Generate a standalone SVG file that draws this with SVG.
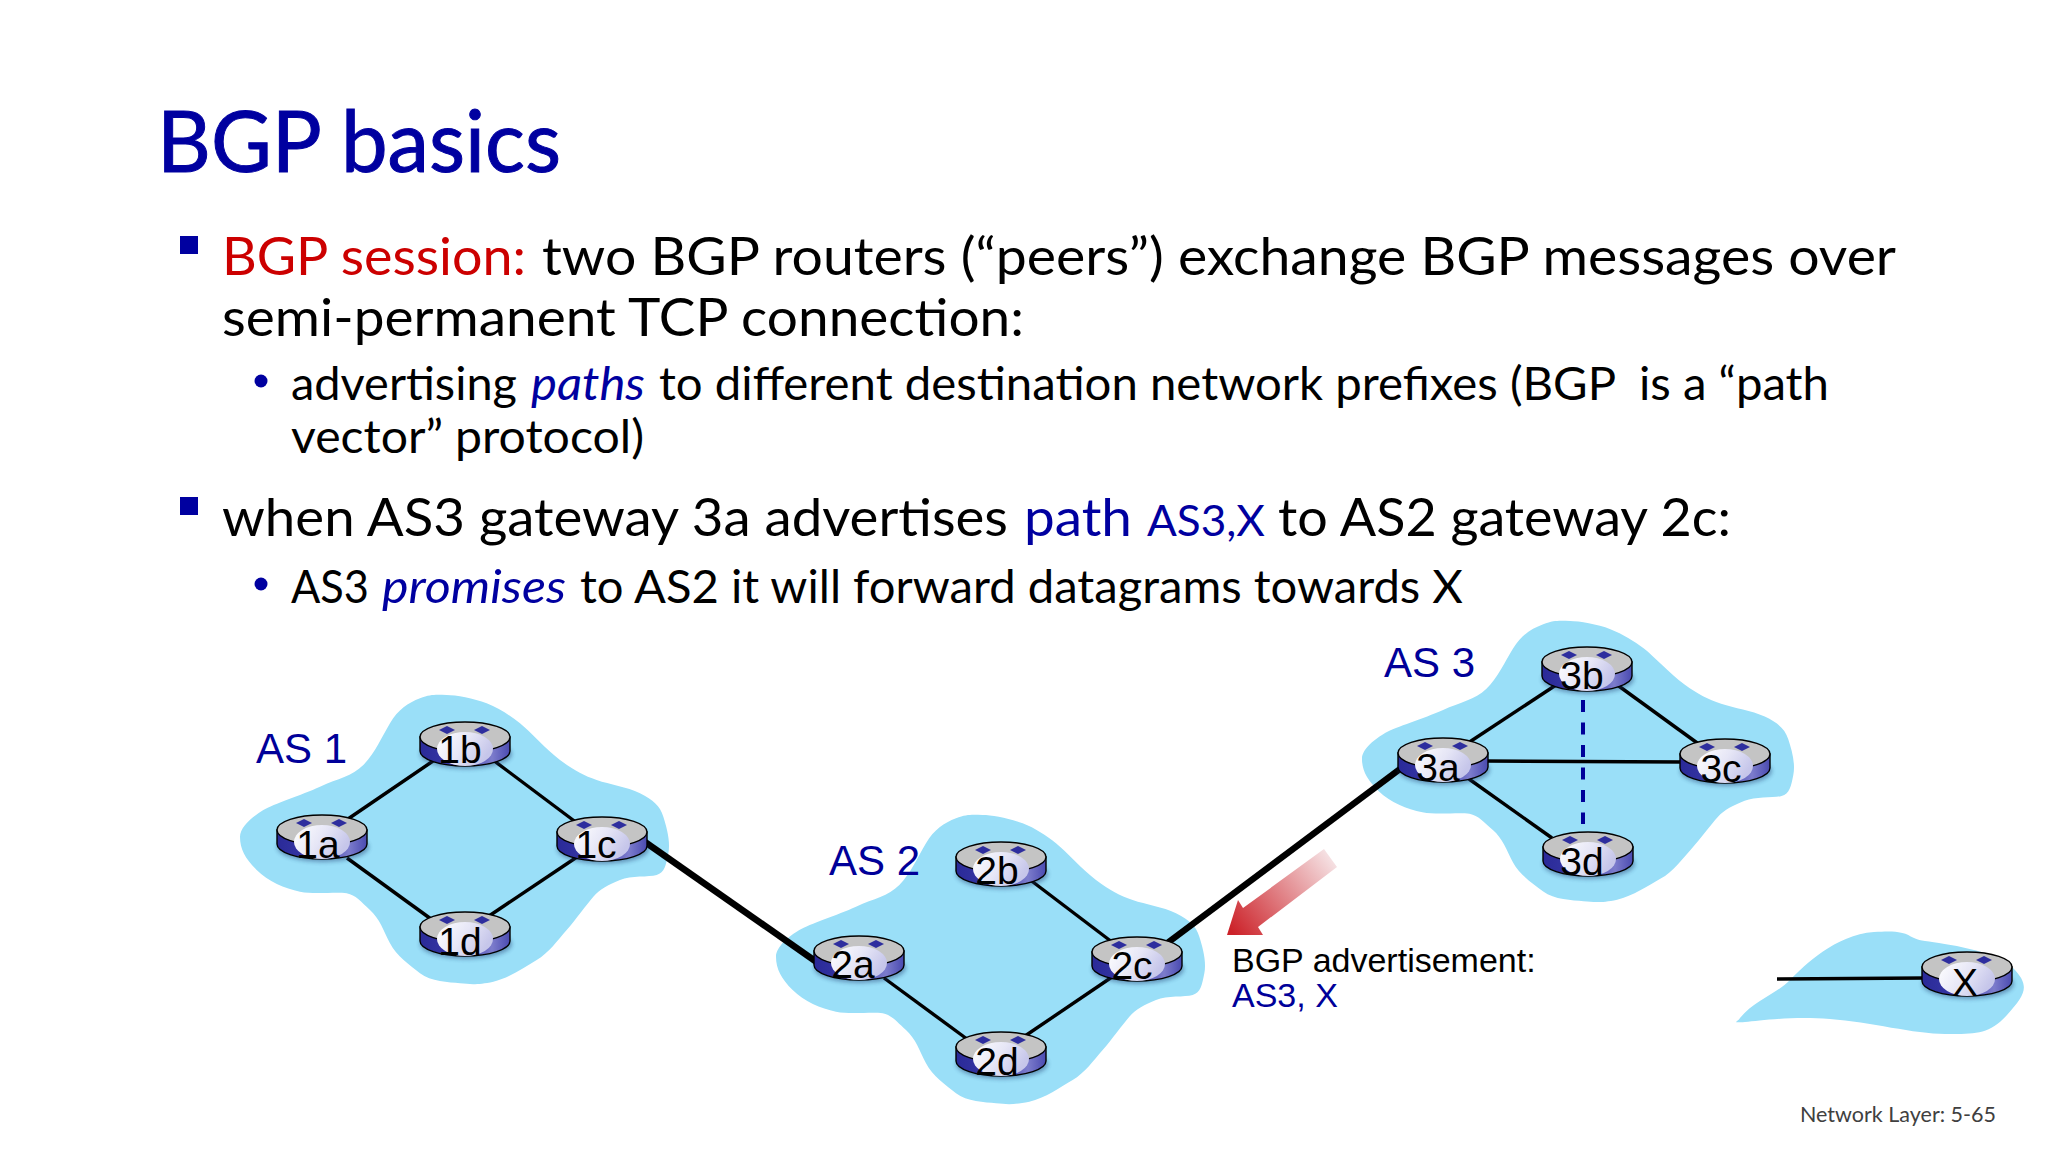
<svg xmlns="http://www.w3.org/2000/svg" width="2048" height="1152" viewBox="0 0 2048 1152">
<style>
.t{font-family:"Lato","Open Sans","Liberation Sans",sans-serif;fill:#000}
.b{fill:#0000A0}.r{fill:#CC0000}.i{font-style:italic}
.h{font-size:85px;stroke:#0000A0;stroke-width:1}.l1{font-size:52px}.l2{font-size:46px}.small{font-size:43px}
.pre{white-space:pre}
.foot{font-size:22px;fill:#404040}
.a{font-family:"Liberation Sans",Arial,sans-serif}
.as{font-size:42px;fill:#000099}
.ad{font-size:34px}
.rl{font-size:39px;fill:#000;text-anchor:middle}
.cn{stroke:#000;stroke-width:3.4;fill:none;stroke-linecap:butt}
.thick{stroke:#000;stroke-width:6.5;fill:none}
.blob{fill:#9ADFF8}
</style>
<defs>
<linearGradient id="side" x1="0" x2="1" y1="0" y2="0">
<stop offset="0" stop-color="#2A2A98"/><stop offset=".45" stop-color="#3A3AA8"/><stop offset=".8" stop-color="#7C7CCC"/><stop offset="1" stop-color="#4A4AB0"/>
</linearGradient>
<linearGradient id="glow" x1="0" x2="1" y1="0" y2=".4">
<stop offset="0" stop-color="#FFFFFF"/><stop offset=".55" stop-color="#E6E6F6"/><stop offset="1" stop-color="#C6C6EA"/>
</linearGradient>
<linearGradient id="adv" gradientUnits="userSpaceOnUse" x1="1332" y1="856" x2="1232" y2="932">
<stop offset="0" stop-color="#F6E4E6"/><stop offset="1" stop-color="#CC2229"/>
</linearGradient>
<filter id="soft" x="-20%" y="-30%" width="140%" height="160%"><feGaussianBlur stdDeviation="2"/></filter>
<path id="as-blob" class="blob" transform="translate(220 680) scale(.33333)" d="M60 470C60 440 100 408 130 390S245 345 300 320S396 289 430 255S485 172 510 130S564 69 600 55S653 45 680 45S762 55 800 70S870 106 900 130S977 208 1020 240S1090 286 1130 300S1220 320 1260 340S1320 378 1330 410S1352 484 1345 520S1334 578 1310 585S1234 586 1200 600S1140 627 1120 650S1068 718 1040 750S986 819 950 840S867 895 820 905S753 913 720 910S632 905 600 880S529 827 510 790S479 716 450 690S408 646 380 640S286 644 240 635S144 604 110 570S60 507 60 470Z"/>
<g id="router">
<ellipse cx="1" cy="17" rx="46" ry="15" fill="#1A3A70" opacity=".45" filter="url(#soft)"/>
<path d="M-45 0V14A45 15 0 0 0 45 14V0Z" fill="url(#side)" stroke="#000" stroke-width="1.4"/>
<ellipse rx="45" ry="15" fill="#C4C4C4" stroke="#000" stroke-width="1.4"/>
<ellipse cx="0" cy="12" rx="28" ry="17" fill="url(#glow)"/>
<path d="M-26 -7L-18 -11L-10 -7L-18 -3ZM9 -7L17 -11L25 -7L17 -3Z" fill="#2E2E9E"/>
</g>
</defs>
<rect width="2048" height="1152" fill="#fff"/>

<g id="slide-text">
<text class="t h b" x="157" y="172" textLength="404" lengthAdjust="spacingAndGlyphs">BGP basics</text>
<rect class="b" x="180" y="236" width="18" height="18"/>
<text class="t l1 r" x="222" y="275" textLength="304" lengthAdjust="spacingAndGlyphs">BGP session:</text>
<text class="t l1" x="542" y="275" textLength="1354" lengthAdjust="spacingAndGlyphs">two BGP routers (“peers”) exchange BGP messages over</text>
<text class="t l1" x="222" y="336" textLength="802" lengthAdjust="spacingAndGlyphs">semi-permanent TCP connection:</text>
<ellipse class="b" cx="261" cy="381" rx="6.500" ry="6.500"/>
<text class="t l2" x="291" y="400" textLength="226" lengthAdjust="spacingAndGlyphs">advertising</text>
<text class="t l2 b i" x="531" y="400" textLength="114" lengthAdjust="spacingAndGlyphs">paths</text>
<text class="t l2 pre" x="659" y="400" textLength="1170" lengthAdjust="spacingAndGlyphs">to different destination network prefixes (BGP  is a “path</text>
<text class="t l2" x="291" y="453" textLength="353" lengthAdjust="spacingAndGlyphs">vector” protocol)</text>
<rect class="b" x="180" y="497" width="18" height="18"/>
<text class="t l1" x="222" y="536" textLength="786" lengthAdjust="spacingAndGlyphs">when AS3 gateway 3a advertises</text>
<text class="t l1 b" x="1024" y="536" textLength="108" lengthAdjust="spacingAndGlyphs">path</text>
<text class="t small b" x="1147" y="536" textLength="118" lengthAdjust="spacingAndGlyphs">AS3,X</text>
<text class="t l1" x="1278" y="536" textLength="453" lengthAdjust="spacingAndGlyphs">to AS2 gateway 2c:</text>
<ellipse class="b" cx="261" cy="584" rx="6.500" ry="6.500"/>
<text class="t l2" x="291" y="603" textLength="78" lengthAdjust="spacingAndGlyphs">AS3</text>
<text class="t l2 b i" x="382" y="603" textLength="184" lengthAdjust="spacingAndGlyphs">promises</text>
<text class="t l2" x="580" y="603" textLength="883" lengthAdjust="spacingAndGlyphs">to AS2 it will forward datagrams towards X</text>
<text class="t foot" x="1800" y="1122" textLength="196" lengthAdjust="spacingAndGlyphs">Network Layer: 5-65</text>
</g>

<g id="as-clouds">
<use id="as1-cloud" href="#as-blob"/>
<use id="as2-cloud" href="#as-blob" transform="translate(536 120)"/>
<use id="as3-cloud" href="#as-blob" transform="translate(1120.300 -54.500) scale(1.007 .972)"/>
<path id="x-cloud" class="blob" d="M1740 1018C1755 1000 1775 995 1790 980S1835 935 1874 932S1905 938 1925 941S1995 950 2013 968S2025 995 2007 1015S1975 1034 1945 1034S1870 1022 1830 1019S1760 1021 1745 1022S1738 1022 1740 1018Z"/>
</g>

<g id="connectors">
<line class="cn" x1="345" y1="821" x2="433" y2="761"/>
<line class="cn" x1="493" y1="760" x2="577" y2="823"/>
<line class="cn" x1="347" y1="858" x2="431" y2="919"/>
<line class="cn" x1="489" y1="916" x2="577" y2="857"/>
<line class="cn" x1="884" y1="978" x2="967" y2="1039"/>
<line class="cn" x1="1029" y1="879" x2="1112" y2="942"/>
<line class="cn" x1="1025" y1="1036" x2="1112" y2="977"/>
<line class="cn" x1="1468" y1="743" x2="1556" y2="685"/>
<line class="cn" x1="1616" y1="684" x2="1700" y2="745"/>
<line class="cn" x1="1485" y1="761" x2="1684" y2="762"/>
<line class="cn" x1="1469" y1="779" x2="1552" y2="838"/>
<line x1="1583" y1="700" x2="1583" y2="824" stroke="#000099" stroke-width="4" stroke-dasharray="12 10.500"/>
<line class="thick" x1="645" y1="842" x2="818" y2="963"/>
<line class="thick" x1="1166" y1="944" x2="1404" y2="766"/>
<line class="cn" x1="1777" y1="979" x2="1925" y2="978"/>
</g>

<g id="r1a" transform="translate(322 830)"><use href="#router"/><text class="a rl" x="-4" y="28">1a</text></g>
<g id="r1b" transform="translate(465 737)"><use href="#router"/><text class="a rl" x="-5" y="26">1b</text></g>
<g id="r1c" transform="translate(602 832)"><use href="#router"/><text class="a rl" x="-6" y="26">1c</text></g>
<g id="r1d" transform="translate(465 927)"><use href="#router"/><text class="a rl" x="-5" y="28">1d</text></g>
<g id="r2a" transform="translate(859 951)"><use href="#router"/><text class="a rl" x="-6" y="27">2a</text></g>
<g id="r2b" transform="translate(1001 857)"><use href="#router"/><text class="a rl" x="-4" y="27">2b</text></g>
<g id="r2c" transform="translate(1137 952)"><use href="#router"/><text class="a rl" x="-5" y="27">2c</text></g>
<g id="r2d" transform="translate(1001 1047)"><use href="#router"/><text class="a rl" x="-4" y="28">2d</text></g>
<g id="r3a" transform="translate(1443 753)"><use href="#router"/><text class="a rl" x="-5" y="28">3a</text></g>
<g id="r3b" transform="translate(1587 662)"><use href="#router"/><text class="a rl" x="-5" y="27">3b</text></g>
<g id="r3c" transform="translate(1725 754)"><use href="#router"/><text class="a rl" x="-4" y="28">3c</text></g>
<g id="r3d" transform="translate(1588 847)"><use href="#router"/><text class="a rl" x="-6" y="28">3d</text></g>
<g id="rX" transform="translate(1967 967)"><use href="#router"/><text class="a rl" x="-2" y="29">X</text></g>

<g id="labels">
<text class="a as" x="256" y="763">AS 1</text>
<text class="a as" x="829" y="875">AS 2</text>
<text class="a as" x="1384" y="677">AS 3</text>
<text class="a ad" x="1232" y="972">BGP advertisement:</text>
<text class="a ad" x="1232" y="1007" fill="#000099">AS3, X</text>
</g>

<polygon id="advert-arrow" points="1227,935 1238,900 1243,908 1324,849 1337,867 1258,927 1263,935" fill="url(#adv)"/>
</svg>
